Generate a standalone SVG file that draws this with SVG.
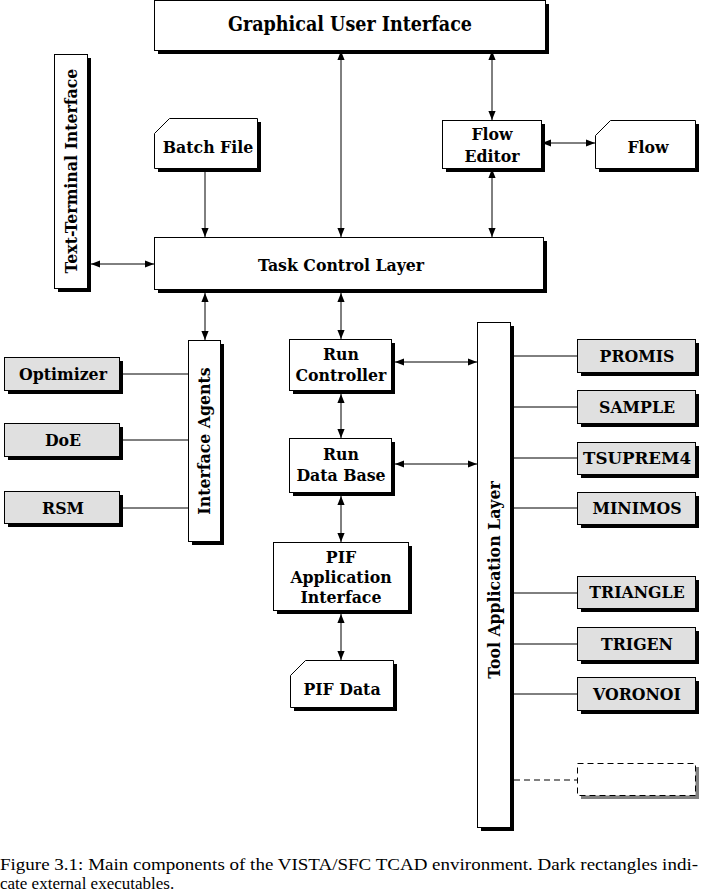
<svg xmlns="http://www.w3.org/2000/svg" width="701" height="895" viewBox="0 0 701 895">
<style>
.box{fill:#fff;stroke:#000;stroke-width:1}
.tool{fill:#e0e0e0;stroke:#000;stroke-width:1}
.sh{fill:#000}
.lbl{font-family:"DejaVu Serif Condensed","DejaVu Serif",serif;font-stretch:condensed;font-weight:700;font-size:17.5px;text-anchor:middle;fill:#000}
.con line{stroke:#000;stroke-width:1}
.cap{font-family:"Liberation Serif","Times New Roman",serif;font-size:17px;fill:#000}
</style>
<defs>
<marker id="ah" viewBox="0 0 10 10" refX="10" refY="5" markerWidth="9" markerHeight="9" markerUnits="userSpaceOnUse" orient="auto-start-reverse">
<path d="M0,1 L10,5 L0,9 Z" fill="#000"/>
</marker>
</defs>
<rect width="701" height="895" fill="#fff"/>

<g id="gui">
<rect class="sh" x="158" y="4" width="391" height="50"/>
<rect class="box" x="154.5" y="0.5" width="391" height="50"/>
<text class="lbl" x="350" y="31" style="font-size:19.5px">Graphical User Interface</text>
</g>

<g id="batch">
<path class="sh" d="M174,122 L261,122 L261,172 L158,172 L158,137 Z"/>
<path class="box" d="M169.5,118.5 L257.5,118.5 L257.5,168.5 L154.5,168.5 L154.5,133.5 Z"/>
<text class="lbl" x="208" y="153">Batch File</text>
</g>

<g id="floweditor">
<rect class="sh" x="446" y="124" width="99" height="48"/>
<rect class="box" x="442.5" y="120.5" width="99" height="48"/>
<text class="lbl" x="492" y="140">Flow</text>
<text class="lbl" x="492" y="162">Editor</text>
</g>

<g id="flow">
<path class="sh" d="M614,124 L699,124 L699,172 L599,172 L599,139 Z"/>
<path class="box" d="M610.5,120.5 L695.5,120.5 L695.5,168.5 L595.5,168.5 L595.5,135.5 Z"/>
<text class="lbl" x="648" y="153">Flow</text>
</g>

<g id="textterm">
<rect class="sh" x="58" y="58" width="33" height="234"/>
<rect class="box" x="54.5" y="54.5" width="33" height="234"/>
<text class="lbl" transform="translate(77,171) rotate(-90)">Text-Terminal Interface</text>
</g>

<g id="tcl">
<rect class="sh" x="158" y="241" width="389" height="52"/>
<rect class="box" x="154.5" y="237.5" width="389" height="52"/>
<text class="lbl" x="341" y="271">Task Control Layer</text>
</g>

<g id="ia">
<rect class="sh" x="192" y="344" width="32" height="201"/>
<rect class="box" x="188.5" y="340.5" width="32" height="201"/>
<text class="lbl" transform="translate(210,441) rotate(-90)">Interface Agents</text>
</g>

<g id="optimizer">
<rect class="sh" x="8" y="361" width="115" height="33"/>
<rect class="tool" x="4.5" y="357.5" width="115" height="33"/>
<text class="lbl" x="63" y="380">Optimizer</text>
</g>
<g id="doe">
<rect class="sh" x="8" y="427" width="115" height="33"/>
<rect class="tool" x="4.5" y="423.5" width="115" height="33"/>
<text class="lbl" x="63" y="446">DoE</text>
</g>
<g id="rsm">
<rect class="sh" x="8" y="495" width="115" height="32"/>
<rect class="tool" x="4.5" y="491.5" width="115" height="32"/>
<text class="lbl" x="63" y="514">RSM</text>
</g>

<g id="runctrl">
<rect class="sh" x="293" y="343" width="102" height="51"/>
<rect class="box" x="289.5" y="339.5" width="102" height="51"/>
<text class="lbl" x="341" y="360">Run</text>
<text class="lbl" x="341" y="381">Controller</text>
</g>

<g id="rundb">
<rect class="sh" x="293" y="442" width="102" height="54"/>
<rect class="box" x="289.5" y="438.5" width="102" height="54"/>
<text class="lbl" x="341" y="460">Run</text>
<text class="lbl" x="341" y="481">Data Base</text>
</g>

<g id="pifapi">
<rect class="sh" x="277" y="546" width="135" height="68"/>
<rect class="box" x="273.5" y="542.5" width="135" height="68"/>
<text class="lbl" x="341" y="563">PIF</text>
<text class="lbl" x="341" y="583">Application</text>
<text class="lbl" x="341" y="603">Interface</text>
</g>

<g id="pifdata">
<path class="sh" d="M309,664 L397,664 L397,711 L294,711 L294,679 Z"/>
<path class="box" d="M305.5,660.5 L393.5,660.5 L393.5,707.5 L290.5,707.5 L290.5,675.5 Z"/>
<text class="lbl" x="342" y="695">PIF Data</text>
</g>

<g id="tal">
<rect class="sh" x="481" y="326" width="33" height="505"/>
<rect class="box" x="477.5" y="322.5" width="33" height="505"/>
<text class="lbl" transform="translate(500,580) rotate(-90)">Tool Application Layer</text>
</g>

<g id="promis">
<rect class="sh" x="581" y="343" width="118" height="33"/>
<rect class="tool" x="577.5" y="339.5" width="118" height="33"/>
<text class="lbl" x="637" y="362">PROMIS</text>
</g>
<g id="sample">
<rect class="sh" x="581" y="394" width="118" height="33"/>
<rect class="tool" x="577.5" y="390.5" width="118" height="33"/>
<text class="lbl" x="637" y="413">SAMPLE</text>
</g>
<g id="tsuprem4">
<rect class="sh" x="581" y="446" width="118" height="32"/>
<rect class="tool" x="577.5" y="442.5" width="118" height="32"/>
<text class="lbl" x="637" y="464" textLength="108" lengthAdjust="spacingAndGlyphs">TSUPREM4</text>
</g>
<g id="minimos">
<rect class="sh" x="581" y="496" width="118" height="32"/>
<rect class="tool" x="577.5" y="492.5" width="118" height="32"/>
<text class="lbl" x="637" y="514">MINIMOS</text>
</g>
<g id="triangle">
<rect class="sh" x="581" y="580" width="118" height="32"/>
<rect class="tool" x="577.5" y="576.5" width="118" height="32"/>
<text class="lbl" x="637" y="598">TRIANGLE</text>
</g>
<g id="trigen">
<rect class="sh" x="581" y="631" width="118" height="33"/>
<rect class="tool" x="577.5" y="627.5" width="118" height="33"/>
<text class="lbl" x="637" y="650">TRIGEN</text>
</g>
<g id="voronoi">
<rect class="sh" x="581" y="681" width="118" height="33"/>
<rect class="tool" x="577.5" y="677.5" width="118" height="33"/>
<text class="lbl" x="637" y="700">VORONOI</text>
</g>
<g id="placeholder">
<rect x="581" y="767" width="118" height="32" fill="#808080"/>
<rect x="577.5" y="763.5" width="118" height="32" fill="#fff" stroke="#000" stroke-dasharray="6,4"/>
</g>

<g id="connectors" class="con">
<line x1="341" y1="51" x2="341" y2="237" marker-start="url(#ah)" marker-end="url(#ah)"/>
<line x1="492" y1="51" x2="492" y2="120" marker-start="url(#ah)" marker-end="url(#ah)"/>
<line x1="492" y1="169" x2="492" y2="237" marker-start="url(#ah)" marker-end="url(#ah)"/>
<line x1="542" y1="143" x2="595" y2="143" marker-start="url(#ah)" marker-end="url(#ah)"/>
<line x1="205" y1="172" x2="205" y2="237" marker-end="url(#ah)"/>
<line x1="91" y1="264" x2="154" y2="264" marker-start="url(#ah)" marker-end="url(#ah)"/>
<line x1="205" y1="293" x2="205" y2="340" marker-start="url(#ah)" marker-end="url(#ah)"/>
<line x1="341" y1="293" x2="341" y2="339" marker-start="url(#ah)" marker-end="url(#ah)"/>
<line x1="341" y1="394" x2="341" y2="438" marker-start="url(#ah)" marker-end="url(#ah)"/>
<line x1="341" y1="496" x2="341" y2="542" marker-start="url(#ah)" marker-end="url(#ah)"/>
<line x1="341" y1="614" x2="341" y2="660" marker-start="url(#ah)" marker-end="url(#ah)"/>
<line x1="395" y1="362" x2="477" y2="362" marker-start="url(#ah)" marker-end="url(#ah)"/>
<line x1="395" y1="464" x2="477" y2="464" marker-start="url(#ah)" marker-end="url(#ah)"/>
<line x1="123" y1="374" x2="188" y2="374"/>
<line x1="123" y1="440" x2="188" y2="440"/>
<line x1="123" y1="508" x2="188" y2="508"/>
<line x1="514" y1="356" x2="577" y2="356"/>
<line x1="514" y1="407" x2="577" y2="407"/>
<line x1="514" y1="458" x2="577" y2="458"/>
<line x1="514" y1="508" x2="577" y2="508"/>
<line x1="514" y1="593" x2="577" y2="593"/>
<line x1="514" y1="644" x2="577" y2="644"/>
<line x1="514" y1="694" x2="577" y2="694"/>
<line x1="514" y1="780" x2="577" y2="780" stroke-dasharray="6,4"/>
</g>

<text class="cap" x="0" y="870" textLength="698" lengthAdjust="spacingAndGlyphs">Figure 3.1: Main components of the VISTA/SFC TCAD environment. Dark rectangles indi-</text>
<text class="cap" x="0" y="889">cate external executables.</text>
</svg>
